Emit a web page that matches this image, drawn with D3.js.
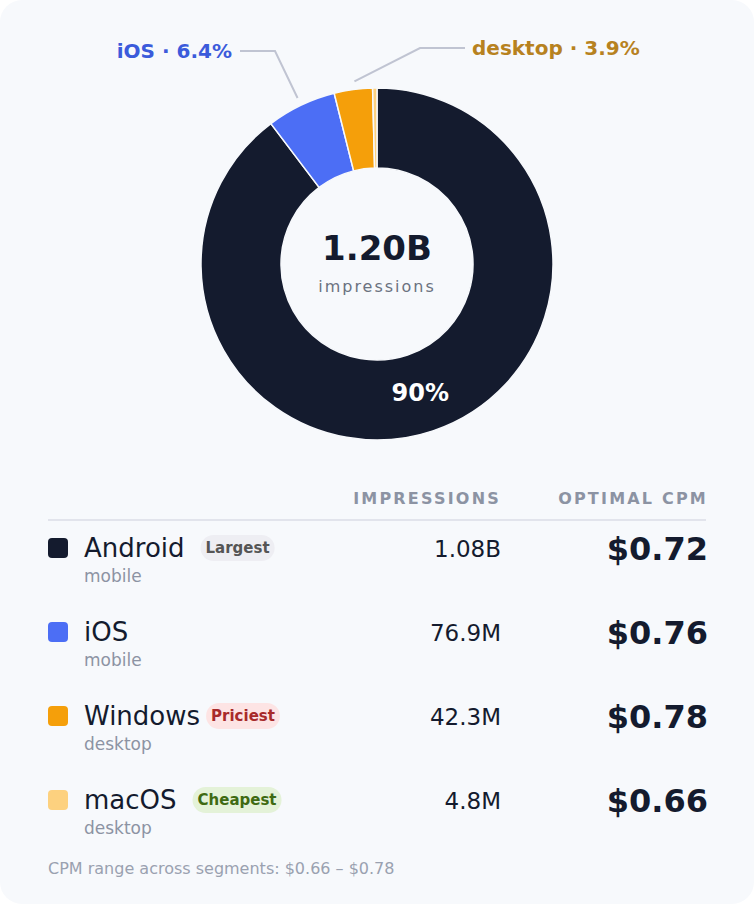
<!DOCTYPE html>
<html><head><meta charset="utf-8">
<script src="https://cdn.jsdelivr.net/npm/d3@7"></script>
<style>body{margin:0;background:#fff}svg{display:block;font-family:"DejaVu Sans",sans-serif}</style>
</head><body>
<svg id="c" width="754" height="904"></svg>
<script>
const names = ["Android","iOS","Windows","macOS"];
const groups = ["mobile","mobile","desktop","desktop"];
const impressions = [1080, 76.9, 42.3, 4.8]; // millions
const impLabels = ["1.08B","76.9M","42.3M","4.8M"];
const cpm = [0.72, 0.76, 0.78, 0.66];
const badges = ["Largest", null, "Priciest", "Cheapest"];
const colors = ["#141b2e","#4c6ef5","#f59f0a","#fdd17f"];

const svg = d3.select("#c");
svg.append("rect").attr("width",754).attr("height",904).attr("rx",22).attr("fill","#f7f9fc");

const cx=377, cy=264;
const pie = d3.pie().sort(null).value(d=>d)(impressions);
const arc = d3.arc().innerRadius(96).outerRadius(176);
const g = svg.append("g").attr("transform",`translate(${cx},${cy})`);
g.selectAll("path").data(pie).join("path").attr("d",arc)
  .attr("fill",(d,i)=>colors[i]).attr("stroke","#f7f9fc").attr("stroke-width",1.5);

const total = d3.sum(impressions);
const c0 = arc.centroid(pie[0]);
g.append("text").attr("x",c0[0]).attr("y",c0[1]).attr("text-anchor","middle").attr("dy","0.35em")
  .attr("fill","#fff").attr("font-weight","bold").attr("font-size",24).text(Math.round(impressions[0]/total*100)+"%");
g.append("text").attr("y",-4).attr("text-anchor","middle").attr("font-size",34).attr("font-weight","bold").attr("fill","#141b2e")
  .text(d3.format(".2f")(total/1000)+"B");
g.append("text").attr("y",28).attr("text-anchor","middle").attr("font-size",16).attr("letter-spacing",2).attr("fill","#6b7280").text("impressions");

// callouts
const iosPct = d3.format(".1f")(impressions[1]/total*100);
const deskPct = d3.format(".1f")((impressions[2]+impressions[3])/total*100);
const outer = d3.arc().innerRadius(184).outerRadius(184);
const pIos = outer.centroid(pie[1]);
const deskSlice = {startAngle:pie[2].startAngle,endAngle:pie[3].endAngle};
const pDesk = outer.centroid(deskSlice);
g.append("polyline").attr("fill","none").attr("stroke","#c0c4d2").attr("stroke-width",2)
  .attr("points",[[pIos[0],pIos[1]],[275-cx,51-cy],[240-cx,51-cy]].join(" "));
g.append("polyline").attr("fill","none").attr("stroke","#c0c4d2").attr("stroke-width",2)
  .attr("points",[[pDesk[0],pDesk[1]],[420-cx,48-cy],[465-cx,48-cy]].join(" "));
svg.append("text").attr("x",232).attr("y",58).attr("text-anchor","end").attr("font-size",20).attr("font-weight","bold").attr("fill","#3b5bdb").text("iOS · "+iosPct+"%");
svg.append("text").attr("x",472).attr("y",55).attr("font-size",20).attr("font-weight","bold").attr("fill","#b7821f").text("desktop · "+deskPct+"%");

// table
svg.append("text").attr("x",501).attr("y",504).attr("text-anchor","end").attr("font-size",16).attr("font-weight","bold").attr("letter-spacing",2.2).attr("fill","#8c93a3").text("IMPRESSIONS");
svg.append("text").attr("x",708).attr("y",504).attr("text-anchor","end").attr("font-size",16).attr("font-weight","bold").attr("letter-spacing",2.2).attr("fill","#8c93a3").text("OPTIMAL CPM");
svg.append("line").attr("x1",48).attr("x2",706).attr("y1",520).attr("y2",520).attr("stroke","#e2e4ec").attr("stroke-width",2);

const y = d3.scaleBand().domain(names).range([520,856]);
const badgeStyle = {Largest:["#eeeef3","#555555"],Priciest:["#fde4e4","#a82a2a"],Cheapest:["#e4f2d8","#3f6a12"]};
names.forEach((n,i)=>{
  const yb = y(n)+37;
  const row = svg.append("g");
  row.append("rect").attr("x",48).attr("y",yb-19).attr("width",20).attr("height",20).attr("rx",4).attr("fill",colors[i]);
  const t = row.append("text").attr("x",84).attr("y",yb).attr("font-size",26).attr("fill","#141b2e").text(n);
  row.append("text").attr("x",84).attr("y",yb+25).attr("font-size",17).attr("fill","#8c93a3").text(groups[i]);
  row.append("text").attr("x",501).attr("y",yb).attr("text-anchor","end").attr("font-size",23).attr("fill","#141b2e").text(impLabels[i]);
  row.append("text").attr("x",708).attr("y",yb+3).attr("text-anchor","end").attr("font-size",32).attr("font-weight","bold").attr("fill","#141b2e").text("$"+cpm[i].toFixed(2));
  if(badges[i]){
    const w = t.node().getComputedTextLength();
    const bx = 84+w+ (n==="Windows"?6:16);
    const bt = row.append("text").attr("x",bx+5).attr("y",yb-4).attr("font-size",15).attr("font-weight","bold").attr("fill",badgeStyle[badges[i]][1]).text(badges[i]);
    const bw = bt.node().getComputedTextLength()+10;
    row.insert("rect","text").attr("x",bx).attr("y",yb-22).attr("width",bw).attr("height",26).attr("rx",13).attr("fill",badgeStyle[badges[i]][0]);
  }
});
svg.append("text").attr("x",48).attr("y",874).attr("font-size",16).attr("fill","#9aa1b0")
  .text(`CPM range across segments: $${d3.min(cpm).toFixed(2)} – $${d3.max(cpm).toFixed(2)}`);
</script>
</body></html>
